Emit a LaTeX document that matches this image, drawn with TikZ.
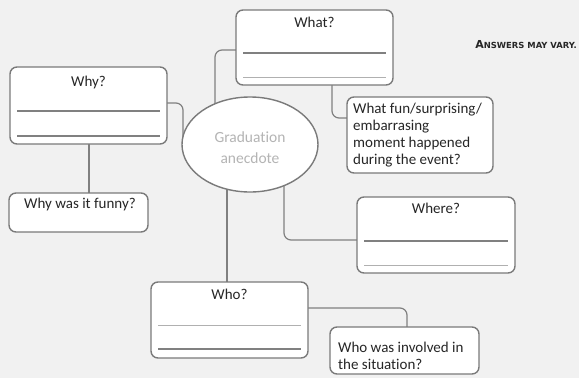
\documentclass[tikz,border=0pt]{standalone}
\usepackage{fontspec}
\setmainfont[Ligatures=CommonOff]{Carlito}
\newfontfamily\dejavu{DejaVu Sans}
\usetikzlibrary{backgrounds,shapes.geometric}
\definecolor{bgc}{HTML}{F1F1F1}
\definecolor{edgec}{HTML}{7A7A7A}
\definecolor{linec}{HTML}{808080}
\definecolor{lightln}{HTML}{B0B0B0}
\definecolor{txtc}{HTML}{262626}
\definecolor{ellt}{HTML}{B4B4B4}
\tikzset{
  box/.style={draw=edgec, line width=1.4pt, fill=white, rounded corners=7pt, anchor=north west, inner sep=0pt, outer sep=0pt},
  conn/.style={draw=linec, line width=1.2pt, rounded corners=7pt},
  title/.style={font=\fontsize{15}{16}\selectfont, text=txtc, anchor=base, inner sep=0pt},
  darkln/.style={draw=linec, line width=1.2pt},
  softln/.style={draw=lightln, line width=1pt},
  qtext/.style={font=\fontsize{15}{17}\selectfont, text=txtc, align=left, inner sep=0pt}
}
\begin{document}
\begin{tikzpicture}[x=1pt,y=-1pt]
\useasboundingbox (0,0) rectangle (579,378);
% boxes
\node[box, minimum width=157pt, minimum height=75pt] (What) at (236,10) {};
\node[box, minimum width=157pt, minimum height=77pt] (Why) at (10,67) {};
\node[box, minimum width=158pt, minimum height=76pt] (Where) at (357,197) {};
\node[box, minimum width=157pt, minimum height=76pt] (Who) at (151,282) {};
\node[box, minimum width=146pt, minimum height=76pt] (Fun) at (347,97) {};
\node[box, minimum width=139pt, minimum height=39pt] (Funny) at (9,193) {};
\node[box, minimum width=149pt, minimum height=47pt] (Inv) at (330,327) {};
\node[draw=edgec, line width=1.4pt, fill=white, ellipse, minimum width=136pt, minimum height=95pt, inner sep=0pt] (Ell) at (250,144.5) {};
% titles
\node[title] (tWhat) at ([yshift=-17]What.north) {What?};
\node[title] (tWhy) at ([yshift=-19]Why.north) {Why?};
\node[title] (tWhere) at ([yshift=-16]Where.north) {Where?};
\node[title] (tWho) at ([yshift=-17]Who.north) {Who?};
% answer lines
\draw[darkln] ([xshift=7,yshift=-43]What.north west) -- ([xshift=-7,yshift=-43]What.north east);
\draw[softln] ([xshift=7,yshift=-67]What.north west) -- ([xshift=-7,yshift=-67]What.north east);
\draw[darkln] ([xshift=7,yshift=-44]Why.north west) -- ([xshift=-7,yshift=-44]Why.north east);
\draw[darkln] ([xshift=7,yshift=-69]Why.north west) -- ([xshift=-7,yshift=-69]Why.north east);
\draw[darkln] ([xshift=7,yshift=-44]Where.north west) -- ([xshift=-7,yshift=-44]Where.north east);
\draw[softln] ([xshift=7,yshift=-68]Where.north west) -- ([xshift=-7,yshift=-68]Where.north east);
\draw[softln] ([xshift=7,yshift=-43]Who.north west) -- ([xshift=-7,yshift=-43]Who.north east);
\draw[darkln] ([xshift=7,yshift=-67]Who.north west) -- ([xshift=-7,yshift=-67]Who.north east);
% question texts
\node[qtext, anchor=north west] (tFun) at ([xshift=6,yshift=-6]Fun.north west) {What fun/surprising/\\embarrasing\\moment happened\\during the event?};
\node[qtext, anchor=base] (tFunny) at ([xshift=1.5,yshift=4]Funny.center) {Why was it funny?};
\node[qtext, anchor=north west] (tInv) at ([xshift=8,yshift=-15]Inv.north west) {Who was involved in\\the situation?};
\node[font=\fontsize{15.5}{21}\selectfont, text=ellt, align=center] (tEll) at ([yshift=-3]Ell.center) {Graduation\\anecdote};
\node[font=\dejavu\bfseries, text=txtc, anchor=base east, inner sep=0pt] (ans) at (577,48) {{\fontsize{11}{11}\selectfont A}{\fontsize{8.4}{11}\selectfont NSWERS MAY VARY.}};
% background and connectors
\begin{pgfonlayer}{background}
\fill[bgc] (0,0) rectangle (579,378);
\draw[conn] ([yshift=-40]What.north west) -| ([xshift=-35]Ell.center);
\draw[conn] ([yshift=-36]Why.north east) -| ([xshift=-67]Ell.center);
\draw[conn] ([xshift=79]Why.south west) -- ([xshift=79]Why.south west |- Funny.north);
\draw[conn] ([xshift=96]What.south west) |- ([yshift=-21]Fun.north west);
\draw[conn] ([xshift=34]Ell.center) |- ([yshift=-43]Where.north west);
\draw[conn] ([xshift=-23]Ell.center) -- ([xshift=-23]Ell.center |- Who.north);
\draw[conn] ([yshift=-26]Who.north east) -| ([xshift=77]Inv.north west);
\end{pgfonlayer}
\end{tikzpicture}
\end{document}
